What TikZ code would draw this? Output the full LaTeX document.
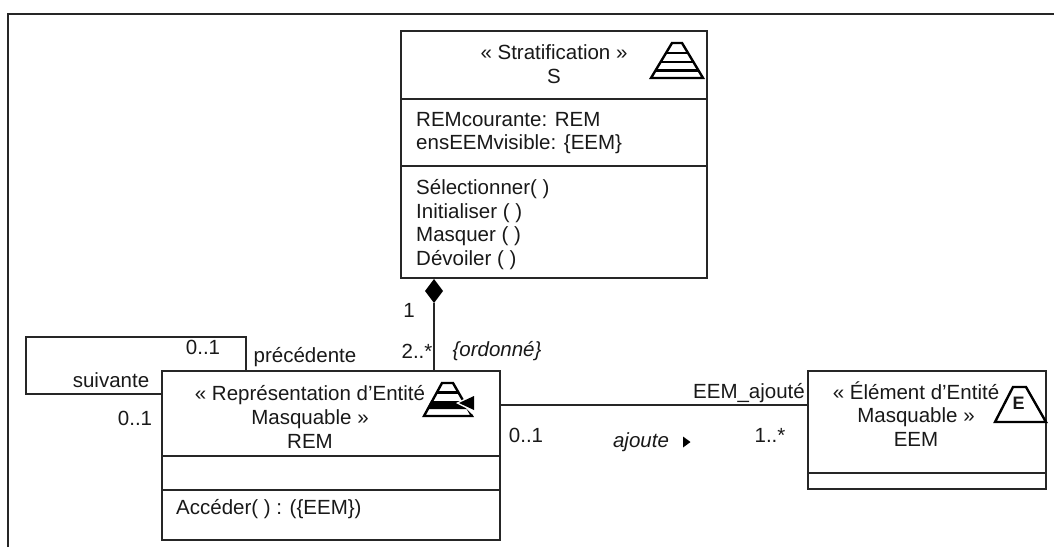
\documentclass[tikz,border=0pt]{standalone}
\usepackage{fontspec}
\setmainfont{Liberation Sans}
\tikzset{
  line/.style={draw=black!85, line width=1.2pt},
  box/.style={line, fill=white},
  lbl/.style={inner sep=0pt, font=\fontsize{20.5}{23.7}\selectfont, text=black!90},
  multi/.style={lbl, align=center},
  lft/.style={lbl, align=left, anchor=west},
  ital/.style={lbl, font=\fontsize{20.5}{23.7}\selectfont\itshape},
  icon/.style={draw=black, line width=2.4pt, line join=miter, fill=white},
  band/.style={line width=2.6pt, black},
}
\begin{document}
\begin{tikzpicture}[x=1pt,y=-1pt]
\useasboundingbox (0,0) rectangle (1054,547);
% frame
\coordinate (fa) at (8,547);
\coordinate (fb) at (8,14);
\coordinate (fc) at (1054,14);
\draw[line] (fa) -- (fb) -- (fc);
% connector anchors
\coordinate (loopA) at (162,394);
\coordinate (loopB) at (26,394);
\coordinate (loopC) at (26,337);
\coordinate (loopD) at (246,337);
\coordinate (loopE) at (246,371);
\coordinate (dia) at (434,303);
\coordinate (remtop) at (434,371);
\coordinate (remright) at (500,405);
\coordinate (eemleft) at (808,405);
% connectors
\draw[line] (loopE) -- (loopD) -- (loopC) -- (loopB) -- (loopA);
\draw[line] (dia) -- (remtop);
\draw[line] (remright) -- (eemleft);
% S box
\draw[box] (401,31) rectangle (707,278);
\draw[line] (401,99) -- (707,99);
\draw[line] (401,166) -- (707,166);
\node[multi] (st) at (554,64) {« Stratification »\\S};
\node[lft] (sattr) at (416,133) {REMcourante: REM\\ensEEMvisible: \{EEM\}};
\node[lft] (sops) at (416,224.5) {Sélectionner( )\\Initialiser ( )\\Masquer ( )\\Dévoiler ( )};
% diamond
\fill[black] (434,279) -- (443,291) -- (434,303) -- (425,291) -- cycle;
% REM box
\draw[box] (162,371) rectangle (500,540);
\draw[line] (162,456) -- (500,456);
\draw[line] (162,490) -- (500,490);
\node[multi] (rt) at (310,417) {« Représentation d’Entité\\Masquable »\\REM};
\node[lft] (rops) at (176,509) {Accéder( ) : (\{EEM\})};
% EEM box
\draw[box] (808,371) rectangle (1046,489);
\draw[line] (808,473) -- (1046,473);
\node[multi] (et) at (916,414) {« Élément d’Entité\\Masquable »\\EEM};
% labels
\node[lbl] (l1) at (409,310) {1};
\node[lbl] (l2) at (417,351) {2..*};
\node[ital] (lo) at (497,351) {\{ordonné\}};
\node[lbl] (l01a) at (203,347) {0..1};
\node[lbl] (lp) at (305,357.5) {précédente};
\node[lbl] (ls) at (111,380) {suivante};
\node[lbl] (l01b) at (135,418.5) {0..1};
\node[lbl] (lee) at (749,393) {EEM\_ajouté};
\node[lbl] (l01c) at (526,435) {0..1};
\node[ital] (laj) at (641,442) {ajoute};
\fill[black] (683,436.5) -- (690.5,442) -- (683,447.5) -- cycle;
\node[lbl] (l1s) at (770,435) {1..*};
% S icon
\draw[icon] (651,78) -- (672,43) -- (682,43) -- (703,78) -- cycle;
\draw[band] (666,53) -- (688,53);
\draw[band] (660.5,62) -- (693.5,62);
\draw[band] (656,70.5) -- (698,70.5);
% REM icon
\draw[icon] (424,416) -- (442,383) -- (453,383) -- (472,416) -- cycle;
\draw[band] (436,392.5) -- (459,392.5);
\fill[black] (431,401) -- (465,401) -- (470,409) -- (427,409) -- cycle;
\fill[white] (456,403) -- (466,398) -- (477,398) -- (477,416) -- (472,414) -- (466,408) -- cycle;
\fill[black] (459,403) -- (474,396) -- (474,410) -- cycle;
% EEM icon
\draw[icon] (995,422) -- (1013,387) -- (1026,387) -- (1046,422) -- cycle;
\node[lbl, font=\fontsize{18}{18}\bfseries\selectfont] (ei) at (1018.5,403.5) {E};
\end{tikzpicture}
\end{document}
